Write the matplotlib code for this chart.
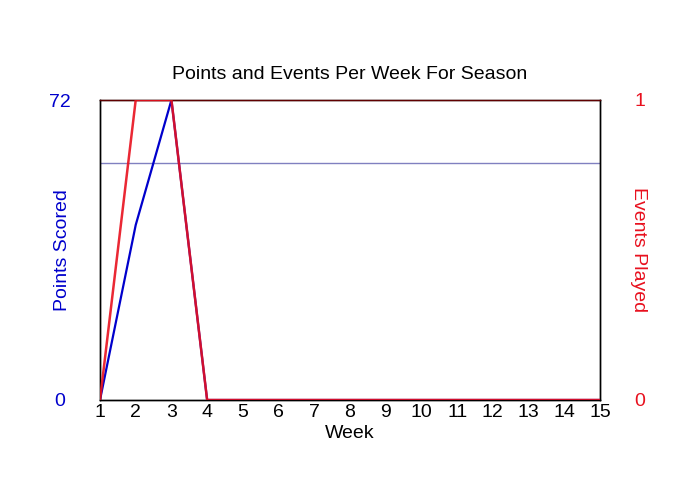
import matplotlib
matplotlib.use("Agg")
import matplotlib.pyplot as plt

plt.rcParams['font.family'] = ['Liberation Sans', 'DejaVu Sans']

weeks = list(range(1, 16))
points = [0, 42, 72, 0, 0, 0, 0, 0, 0, 0, 0, 0, 0, 0, 0]
events = [0, 1, 1, 0, 0, 0, 0, 0, 0, 0, 0, 0, 0, 0, 0]
avg_points = 57

blue = '#0000CC'
red = '#E8101E'
fs = 14

fig = plt.figure(figsize=(7, 5), dpi=100)
ax = fig.add_axes([100/700, 100/500, 500/700, 300/500])
ax2 = ax.twinx()

ax.axhline(avg_points, color='#8080C0', lw=1, zorder=1)
ax.plot(weeks, points, color=blue, lw=1.6, zorder=3)
ax2.plot(weeks, events, color=red, lw=1.8, alpha=0.9, zorder=3)

ax.set_xlim(1, 15)
ax.set_ylim(0, 72)
ax2.set_ylim(0, 1)
ax.set_xticks(weeks)
ax.set_xticklabels([str(w) for w in weeks], fontsize=fs)
ax.set_yticks([0, 72])
ax.set_yticklabels(['0', '72'], fontsize=fs, color=blue, ha='center')
ax2.set_yticks([0, 1])
ax2.set_yticklabels(['0', '1'], fontsize=fs, color=red, ha='center')
ax.tick_params(axis='x', length=0, pad=3)
ax.tick_params(axis='y', length=0, pad=28.8)
ax2.tick_params(axis='y', length=0, pad=28.8)

for a in (ax, ax2):
    for s in a.spines.values():
        s.set_color('black')
        s.set_linewidth(1)
ax2.spines['top'].set_color('#600000')

ax.set_xlabel('Week', fontsize=fs, labelpad=3)
ax.set_ylabel('Points Scored', fontsize=fs, color=blue)
ax.yaxis.set_label_coords(-0.075, 0.5)
ax.yaxis.label.set_va('center')
ax2.set_ylabel('Events Played', fontsize=fs, color=red, rotation=-90)
ax2.yaxis.set_label_coords(1.077, 0.5)
ax2.yaxis.label.set_va('center')
ax.set_title('Points and Events Per Week For Season', fontsize=fs, pad=15)

fig.savefig('out.png', dpi=100)
